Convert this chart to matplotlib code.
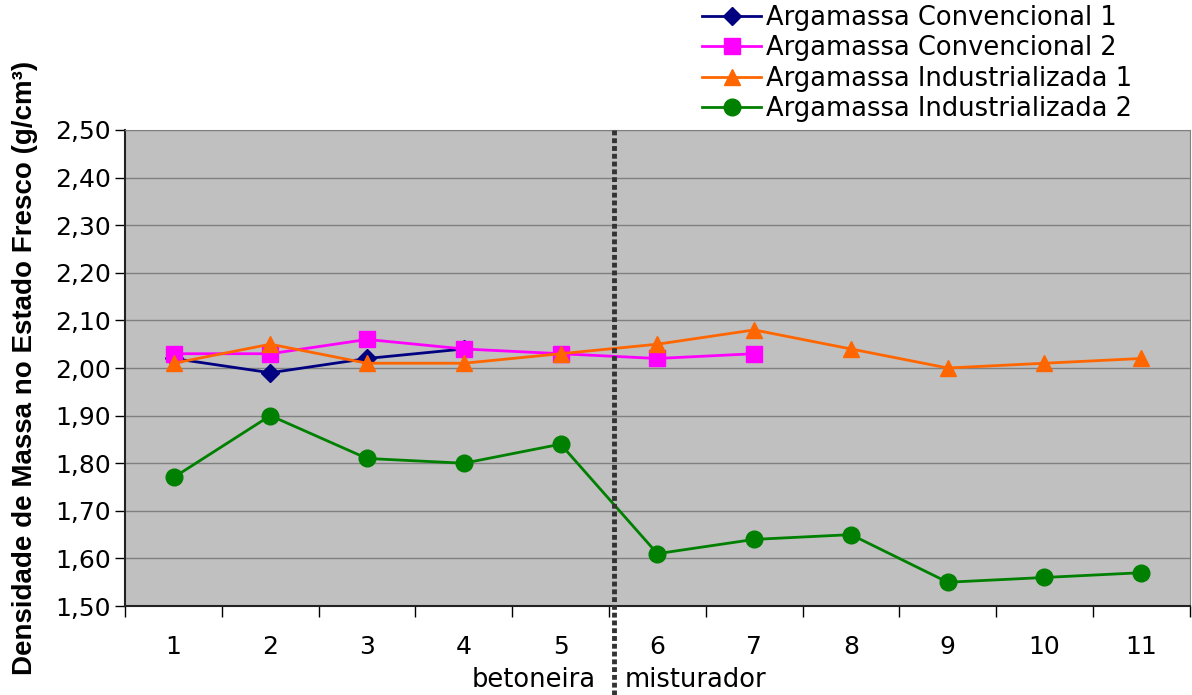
import numpy as np
import matplotlib
matplotlib.use("Agg")
import matplotlib.pyplot as plt

# categories (amostras)
cats = [1, 2, 3, 4, 5, 6, 7, 8, 9, 10, 11]

# densidade de massa no estado fresco (g/cm3)
conv1 = [2.02, 1.99, 2.02, 2.04]
conv2 = [2.03, 2.03, 2.06, 2.04, 2.03, 2.02, 2.03]
ind1 = [2.01, 2.05, 2.01, 2.01, 2.03, 2.05, 2.08, 2.04, 2.00, 2.01, 2.02]
ind2 = [1.77, 1.90, 1.81, 1.80, 1.84, 1.61, 1.64, 1.65, 1.55, 1.56, 1.57]

names = ["Argamassa Convencional 1", "Argamassa Convencional 2",
         "Argamassa Industrializada 1", "Argamassa Industrializada 2"]
yticks = [1.5, 1.6, 1.7, 1.8, 1.9, 2.0, 2.1, 2.2, 2.3, 2.4, 2.5]

plt.rcParams['font.family'] = ['DejaVu Sans']

fig = plt.figure(figsize=(11.92, 6.95), dpi=100)
ax = fig.add_axes([0.105, 0.128, 0.893, 0.685])
ax.set_facecolor('#C0C0C0')

series = [conv1, conv2, ind1, ind2]
styles = [('#000080', 'D', 9), ('#FF00FF', 's', 12), ('#FF6600', '^', 12), ('#008000', 'o', 12)]
for vals, name, (c, m, ms) in zip(series, names, styles):
    x = np.arange(1, len(vals) + 1)
    ax.plot(x, vals, color=c, marker=m, markersize=ms, lw=2, label=name)

ax.set_xlim(0.5, 11.5)
ax.set_ylim(1.5, 2.5)
ax.set_yticks(yticks)
ax.set_yticklabels([("%.2f" % v).replace('.', ',') for v in yticks], fontsize=18)
ax.yaxis.set_tick_params(length=7, width=1)
ax.grid(axis='y', color='#808080', lw=1)
ax.set_axisbelow(True)

# category axis: tick marks between categories, labels in centers
ax.set_xticks(np.arange(0.5, 12, 1))
ax.set_xticklabels([])
ax.tick_params(axis='x', which='major', length=8, width=1)
ax.set_xticks(cats, minor=True)
ax.set_xticklabels([str(c) for c in cats], minor=True, fontsize=18)
ax.tick_params(axis='x', which='minor', length=0, pad=21)

for s in ['top', 'right']:
    ax.spines[s].set_color('#808080')
ax.spines['left'].set_color('#222222')
ax.spines['bottom'].set_color('#222222')
ax.spines['left'].set_linewidth(1.5)
ax.spines['bottom'].set_linewidth(1.5)

# divisor betoneira / misturador
ax.plot([5.55, 5.55], [2.5, 1.31], color='#333333', lw=3.5, ls=(0, (1, 0.6)),
        clip_on=False, zorder=5)
ax.text(5.36, -0.155, "betoneira", transform=ax.get_xaxis_transform(),
        ha='right', va='center', fontsize=18.5)
ax.text(5.66, -0.155, "misturador", transform=ax.get_xaxis_transform(),
        ha='left', va='center', fontsize=18.5)

ax.set_ylabel("Densidade de Massa no Estado Fresco (g/cm³)", fontsize=20,
              fontweight='bold', family=['Liberation Sans', 'DejaVu Sans'], labelpad=12)

ax.legend(loc='lower left', bbox_to_anchor=(0.53, 0.99), frameon=False, fontsize=18.5,
          handlelength=2.3, labelspacing=0.17, borderpad=0, handletextpad=0.2)

fig.savefig("out.png", dpi=100)
